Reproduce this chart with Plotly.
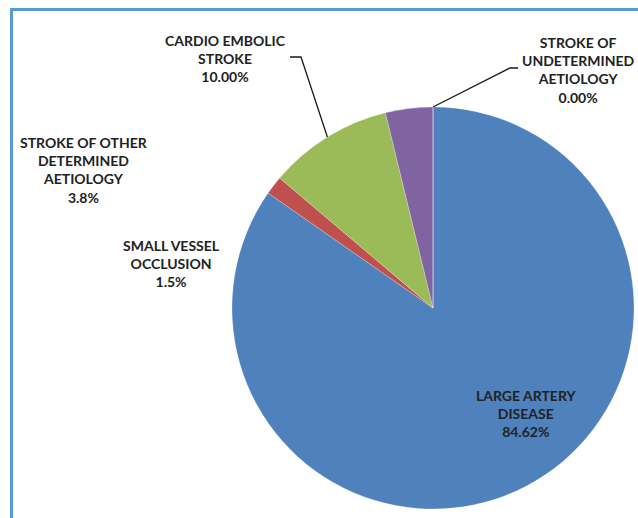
import math
import plotly.graph_objects as go

# Stroke subtypes (TOAST classification), clockwise from 12 o'clock
categories = [
    "LARGE ARTERY<br>DISEASE",
    "SMALL VESSEL<br>OCCLUSION",
    "CARDIO EMBOLIC<br>STROKE",
    "STROKE OF OTHER<br>DETERMINED<br>AETIOLOGY",
    "STROKE OF<br>UNDETERMINED<br>AETIOLOGY",
]
values = [84.62, 1.5, 10.0, 3.8, 0.0]
value_labels = ["84.62%", "1.5%", "10.00%", "3.8%", "0.00%"]
colors = ["#4F81BD", "#C0504D", "#9BBB59", "#8064A2", "#F79646"]

W, H = 638, 518
# pie domain in paper units
dom_x = [232 / W, 634 / W]
dom_y = [1 - 509 / H, 1 - 107 / H]

# label centres (pixels) for each category
label_pos = [(526, 413), (171, 263), (225, 58), (84, 170), (578, 70)]

FONT = "Lato, Noto Sans, sans-serif"

fig = go.Figure(
    go.Pie(
        labels=[c.replace("<br>", " ") for c in categories],
        values=values,
        sort=False,
        direction="clockwise",
        rotation=0,
        textinfo="none",
        marker=dict(colors=colors, line=dict(color="rgba(255,255,255,0.4)", width=0.6)),
        domain=dict(x=dom_x, y=dom_y),
        showlegend=False,
        hovertemplate="%{label}: %{value}<extra></extra>",
    )
)

annotations = []
for cat, val, (px, py) in zip(categories, value_labels, label_pos):
    annotations.append(
        dict(
            text=f"<b>{cat}<br>{val}</b>",
            x=px / W, y=1 - py / H, xref="paper", yref="paper",
            xanchor="center", yanchor="middle", showarrow=False,
            font=dict(family=FONT, size=14, color="#222222"),
        )
    )

# geometry of the pie in pixels, used to anchor the leader lines
cx = (dom_x[0] + dom_x[1]) / 2 * W
cy = (1 - (dom_y[0] + dom_y[1]) / 2) * H
R = min((dom_x[1] - dom_x[0]) * W, (dom_y[1] - dom_y[0]) * H) / 2
total = sum(values)


def edge_point(idx):
    start = sum(values[:idx])
    frac = (start + values[idx] / 2) / total
    theta = 2 * math.pi * frac
    return cx + R * math.sin(theta), cy - R * math.cos(theta)


def to_paper(px, py):
    return px / W, 1 - py / H


def leader(points):
    pts = [to_paper(*p) for p in points]
    path = "M " + " L ".join(f"{x:.5f},{y:.5f}" for x, y in pts)
    return dict(type="path", path=path, xref="paper", yref="paper",
                line=dict(color="#1a1a1a", width=1.3))


shapes = [
    leader([(290, 57), (301, 57), edge_point(2)]),
    leader([(518, 68), (510, 68), edge_point(4)]),
    # frame
    dict(type="line", xref="paper", yref="paper",
         x0=11.5 / W, x1=11.5 / W, y0=0, y1=1 - 8 / H,
         line=dict(color="#5B9BD5", width=3)),
    dict(type="line", xref="paper", yref="paper",
         x0=10 / W, x1=1, y0=1 - 9.5 / H, y1=1 - 9.5 / H,
         line=dict(color="#5B9BD5", width=3)),
]

fig.update_layout(
    width=W, height=H,
    margin=dict(l=0, r=0, t=0, b=0),
    paper_bgcolor="white", plot_bgcolor="white",
    annotations=annotations, shapes=shapes,
)

fig.write_html("out.html")
